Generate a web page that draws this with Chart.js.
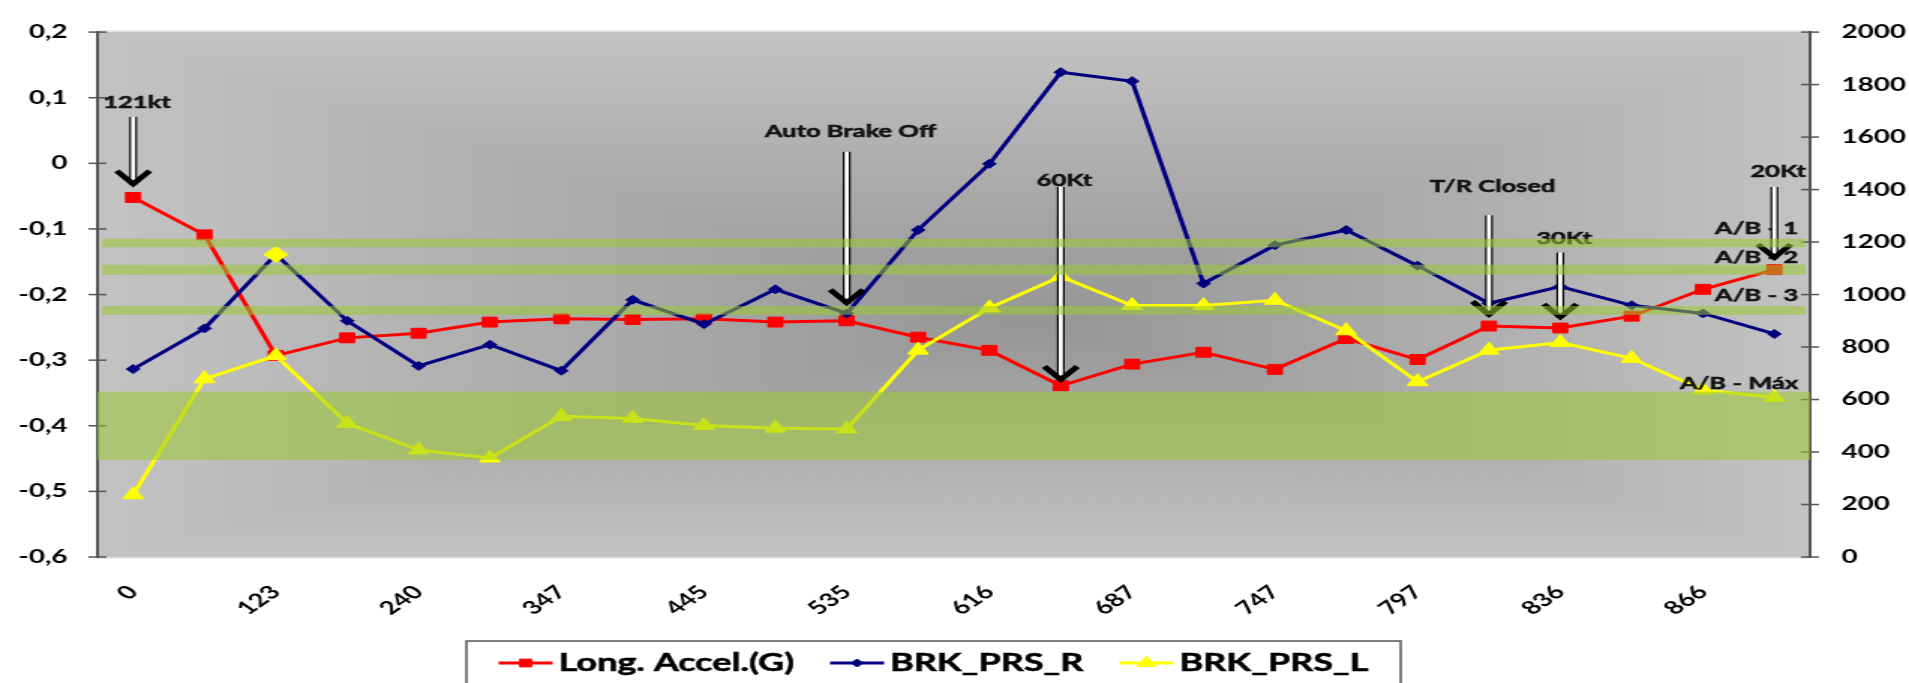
<!DOCTYPE html>
<html>
<head>
<meta charset="utf-8">
<script src="https://cdn.jsdelivr.net/npm/chart.js@4.4.1/dist/chart.umd.min.js"></script>
<style>
  html, body { margin: 0; padding: 0; background: #fff; overflow: hidden; }
  /* the original picture is stretched sideways, so draw narrow and widen the box */
  #wrap { width: 1273px; height: 683px; transform: scaleX(1.4996); transform-origin: 0 0; }
</style>
</head>
<body>
<div id="wrap"><canvas id="brakeChart"></canvas></div>
<script>
// x categories (only every other one carries a label in the picture)
var categories = ['0', '', '123', '', '240', '', '347', '', '445', '', '535', '',
                  '616', '', '687', '', '747', '', '797', '', '836', '', '866', ''];

// left axis (G)
var longAccel = [-0.052, -0.109, -0.293, -0.266, -0.259, -0.242, -0.237, -0.238,
                 -0.237, -0.242, -0.240, -0.265, -0.285, -0.339, -0.306, -0.288,
                 -0.314, -0.267, -0.299, -0.248, -0.251, -0.233, -0.192, -0.162];
// right axis
var brkPrsR = [716, 871, 1153, 900, 728, 809, 710, 980, 887, 1020, 928, 1246,
               1498, 1847, 1813, 1042, 1188, 1246, 1110, 967, 1030, 959, 928, 850];
var brkPrsL = [237, 679, 767, 509, 408, 377, 536, 528, 501, 491, 488, 788,
               949, 1069, 958, 958, 978, 862, 668, 788, 817, 757, 636, 608];

var leftMin = -0.6, leftMax = 0.2, leftStep = 0.1;
var rightMin = 0, rightMax = 2000, rightStep = 200;

// auto brake bands, in left axis units
var bandNames  = ['A/B - 1', 'A/B - 2', 'A/B - 3', 'A/B - Máx'];
var bandTop    = [-0.115, -0.1545, -0.2175, -0.348];
var bandBottom = [-0.128, -0.170, -0.231, -0.452];
var bandLabelY = [-0.100, -0.143, -0.201, -0.336];

// arrow notes: category index, text, text / shaft top / tip heights in left axis units
var noteText  = ['121kt', 'Auto Brake Off', '60Kt', 'T/R Closed', '30Kt', '20Kt'];
var noteIndex = [0, 10, 13, 19, 20, 23];
var noteTextY = [0.092, 0.049, -0.026, -0.036, -0.114, -0.012];
var noteTopY  = [0.071, 0.0175, -0.036, -0.079, -0.136, -0.036];
var noteTipY  = [-0.039, -0.220, -0.337, -0.238, -0.242, -0.151];

var FONT = 'Lato, "DejaVu Sans", sans-serif';

function fmtLeft(v) {
    var r = Math.round(v * 10) / 10;
    if (r === 0) return '0';
    return r.toFixed(1).replace('.', ',');
}

// Excel style "from center" gradient: four triangles, each shaded from its edge to the middle
function plotBackground(ctx, a) {
    var cx = a.left + a.width * 0.55, cy = a.top + a.height * 0.55;
    var edge = '#c3c3c3', mid = '#959595';
    ctx.save();
    ctx.fillStyle = '#acacac';
    ctx.fillRect(a.left, a.top, a.width, a.height);
    var parts = [
        [a.left, a.top, a.right, a.top, cx, a.top],
        [a.right, a.top, a.right, a.bottom, a.right, cy],
        [a.right, a.bottom, a.left, a.bottom, cx, a.bottom],
        [a.left, a.bottom, a.left, a.top, a.left, cy]
    ];
    parts.forEach(function (p) {
        var g = ctx.createLinearGradient(p[4], p[5], cx, cy);
        g.addColorStop(0, edge);
        g.addColorStop(1, mid);
        ctx.beginPath();
        ctx.moveTo(p[0], p[1]);
        ctx.lineTo(p[2], p[3]);
        ctx.lineTo(cx, cy);
        ctx.closePath();
        ctx.fillStyle = g;
        ctx.strokeStyle = g;
        ctx.lineWidth = 1;
        ctx.fill();
        ctx.stroke();
    });
    ctx.strokeStyle = '#dedede';
    ctx.lineWidth = 1.5;
    ctx.beginPath();
    ctx.moveTo(a.left, a.top - 1);
    ctx.lineTo(a.right, a.top - 1);
    ctx.moveTo(a.left, a.bottom + 1);
    ctx.lineTo(a.right, a.bottom + 1);
    ctx.stroke();
    ctx.restore();
}

function drawArrow(ctx, x, yTop, yTip) {
    ctx.save();
    ctx.fillStyle = '#ffffff';
    ctx.fillRect(x - 2, yTop, 4, yTip - yTop - 4);
    ctx.strokeStyle = '#000';
    ctx.lineWidth = 1.2;
    ctx.beginPath();
    ctx.moveTo(x - 2, yTop);
    ctx.lineTo(x - 2, yTip - 4);
    ctx.moveTo(x + 2, yTop);
    ctx.lineTo(x + 2, yTip - 4);
    ctx.stroke();
    ctx.lineWidth = 4.5;
    ctx.lineJoin = 'miter';
    ctx.beginPath();
    ctx.moveTo(x - 11, yTip - 18);
    ctx.lineTo(x, yTip - 5);
    ctx.lineTo(x + 11, yTip - 18);
    ctx.stroke();
    ctx.restore();
}

// slightly heavier text, the picture's labels are very bold
function boldText(ctx, s, x, y) {
    ctx.lineWidth = 0.5;
    ctx.strokeStyle = ctx.fillStyle;
    ctx.strokeText(s, x, y);
    ctx.fillText(s, x, y);
}

var overlayPlugin = {
    id: 'overlay',
    beforeDraw: function (chart) {
        plotBackground(chart.ctx, chart.chartArea);
    },
    beforeDatasetsDraw: function (chart) {
        // tick marks that cross the two value axes
        var ctx = chart.ctx, a = chart.chartArea;
        ctx.save();
        ctx.strokeStyle = '#555';
        ctx.lineWidth = 1.5;
        ['y', 'y2'].forEach(function (id) {
            var s = chart.scales[id];
            var x = id === 'y' ? a.left : a.right;
            s.ticks.forEach(function (t) {
                var y = s.getPixelForValue(t.value);
                ctx.beginPath();
                ctx.moveTo(x - 6, y);
                ctx.lineTo(x + 6, y);
                ctx.stroke();
            });
        });
        ctx.restore();
    },
    afterDatasetsDraw: function (chart) {
        var ctx = chart.ctx, a = chart.chartArea;
        var xs = chart.scales.x, ys = chart.scales.y;
        ctx.save();
        ctx.font = 'bold 17px ' + FONT;
        ctx.fillStyle = '#111';
        ctx.textBaseline = 'middle';

        ctx.textAlign = 'right';
        for (var b = 0; b < bandNames.length; b++) {
            boldText(ctx, bandNames[b], a.right - 8, ys.getPixelForValue(bandLabelY[b]));
        }

        ctx.textAlign = 'center';
        for (var n = 0; n < noteText.length; n++) {
            var x = xs.getPixelForValue(noteIndex[n]);
            ctx.fillStyle = '#111';
            boldText(ctx, noteText[n], x + 2.5, ys.getPixelForValue(noteTextY[n]));
            drawArrow(ctx, x, ys.getPixelForValue(noteTopY[n]), ys.getPixelForValue(noteTipY[n]));
        }

        // translucent green bands go over everything else
        ctx.fillStyle = 'rgba(155, 200, 50, 0.55)';
        for (var k = 0; k < bandNames.length; k++) {
            var y1 = ys.getPixelForValue(bandTop[k]);
            var y2 = ys.getPixelForValue(bandBottom[k]);
            var inset = k === 3 ? 0 : 3;
            ctx.fillRect(a.left + inset, y1, a.width - 2 * inset, y2 - y1);
        }
        ctx.restore();
    },
    afterDraw: function (chart) {
        // legend box at the foot, cut off by the picture edge
        var ctx = chart.ctx;
        var sets = chart.data.datasets;
        var boxL = 311, boxR = 934, boxTop = 641, midY = 663;
        var lineLen = 36, gapText = 4, gapItem = 24;
        ctx.save();
        ctx.fillStyle = '#fff';
        ctx.fillRect(boxL, boxTop, boxR - boxL, 60);
        ctx.strokeStyle = '#555';
        ctx.lineWidth = 1.5;
        ctx.strokeRect(boxL, boxTop, boxR - boxL, 60);
        ctx.font = 'bold 24px ' + FONT;
        var total = 0;
        sets.forEach(function (d, i) {
            total += lineLen + gapText + ctx.measureText(d.label).width + (i ? gapItem : 0);
        });
        var x = (boxL + boxR) / 2 - total / 2;
        sets.forEach(function (d) {
            ctx.strokeStyle = d.borderColor;
            ctx.lineWidth = 3;
            ctx.beginPath();
            ctx.moveTo(x, midY);
            ctx.lineTo(x + lineLen, midY);
            ctx.stroke();
            ctx.fillStyle = d.borderColor;
            ctx.lineWidth = 1;
            Chart.helpers.drawPoint(ctx, { pointStyle: d.pointStyle, rotation: 0, radius: d.legendRadius, borderWidth: 1 },
                x + lineLen / 2, midY);
            x += lineLen + gapText;
            ctx.fillStyle = '#000';
            ctx.textAlign = 'left';
            ctx.textBaseline = 'middle';
            boldText(ctx, d.label, x, midY);
            x += ctx.measureText(d.label).width + gapItem;
        });
        ctx.restore();
    }
};

// the point at 123 on BRK_PRS_R is drawn as a big yellow diamond
var rColors = brkPrsR.map(function (v, i) { return i === 2 ? '#ffff00' : '#000080'; });
var rRadius = brkPrsR.map(function (v, i) { return i === 2 ? 8 : 4.5; });

var tickFont = { family: FONT, size: 18.5, weight: 'bold' };

var ctx = document.getElementById('brakeChart').getContext('2d');
new Chart(ctx, {
    type: 'line',
    data: {
        labels: categories,
        datasets: [{
            label: 'Long. Accel.(G)',
            data: longAccel,
            yAxisID: 'y',
            borderColor: '#ff0000',
            backgroundColor: '#ff0000',
            borderWidth: 3,
            pointStyle: 'rect',
            pointRadius: 7,
            pointBorderWidth: 1,
            legendRadius: 5.5,
            tension: 0,
            order: 2
        }, {
            label: 'BRK_PRS_R',
            data: brkPrsR,
            yAxisID: 'y2',
            borderColor: '#000080',
            backgroundColor: '#000080',
            pointBackgroundColor: rColors,
            pointBorderColor: rColors,
            borderWidth: 3,
            pointStyle: 'rectRot',
            pointRadius: rRadius,
            pointBorderWidth: 1,
            legendRadius: 4,
            tension: 0,
            order: 1
        }, {
            label: 'BRK_PRS_L',
            data: brkPrsL,
            yAxisID: 'y2',
            borderColor: '#ffff00',
            backgroundColor: '#ffff00',
            borderWidth: 3,
            pointStyle: 'triangle',
            pointRadius: 8,
            pointBorderWidth: 1,
            legendRadius: 7,
            tension: 0,
            order: 0
        }]
    },
    options: {
        responsive: true,
        maintainAspectRatio: false,
        animation: false,
        layout: { padding: { top: 19, left: 0, right: 0, bottom: 0 } },
        plugins: {
            legend: { display: false },
            tooltip: { enabled: false }
        },
        scales: {
            x: {
                offset: true,
                grid: { display: false, drawTicks: false },
                border: { display: false },
                ticks: {
                    autoSkip: false,
                    minRotation: 45,
                    maxRotation: 45,
                    padding: 24,
                    color: '#000',
                    font: tickFont
                },
                afterFit: function (s) { s.height = 126; }
            },
            y: {
                position: 'left',
                min: leftMin,
                max: leftMax,
                grid: { display: false, drawTicks: false },
                border: { display: true, color: '#555', width: 2 },
                ticks: {
                    stepSize: leftStep,
                    padding: 20,
                    color: '#000',
                    font: tickFont,
                    callback: fmtLeft
                },
                afterFit: function (s) { s.width = 65; }
            },
            y2: {
                position: 'right',
                min: rightMin,
                max: rightMax,
                grid: { display: false, drawTicks: false },
                border: { display: true, color: '#555', width: 2 },
                ticks: {
                    stepSize: rightStep,
                    padding: 21,
                    color: '#000',
                    font: tickFont,
                    callback: function (v) { return String(v); }
                },
                afterFit: function (s) { s.width = 66; }
            }
        }
    },
    plugins: [overlayPlugin]
});
</script>
</body>
</html>
